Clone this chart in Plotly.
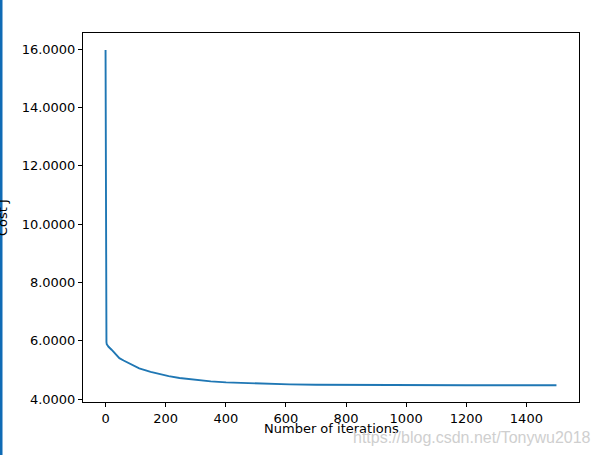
import plotly.graph_objects as go

# Data
iterations = [0, 1, 2, 3, 4, 6, 10, 20, 30, 46, 60, 80, 112, 150, 179, 210, 246,
              280, 312, 350, 401, 450, 500, 550, 612, 700, 800, 900, 1000, 1200, 1500]
cost = [15.97, 7.6, 6.25, 5.95, 5.88, 5.84, 5.79, 5.69, 5.59, 5.40, 5.32, 5.21,
        5.05, 4.93, 4.85, 4.785, 4.72, 4.68, 4.64, 4.605, 4.57, 4.548, 4.53, 4.515,
        4.50, 4.49, 4.482, 4.477, 4.474, 4.472, 4.47]

x_ticks = [0, 200, 400, 600, 800, 1000, 1200, 1400]
y_ticks = [4, 6, 8, 10, 12, 14, 16]

W, H = 602, 455
L, R, T, B = 83, 23, 33, 53
pw = W - L - R
ph = H - T - B

fig = go.Figure()
fig.add_trace(go.Scatter(x=iterations, y=cost, mode="lines",
                         line=dict(color="#1f77b4", width=1.9), showlegend=False))

axis_common = dict(showgrid=False, zeroline=False, showline=True, linecolor="black",
                   linewidth=1, mirror=True, ticks="outside", ticklen=4, tickwidth=1,
                   tickcolor="black", automargin=False,
                   tickfont=dict(family="DejaVu Sans", size=13, color="black"))

fig.update_layout(
    width=W, height=H,
    margin=dict(l=L, r=R, t=T, b=B, autoexpand=False),
    paper_bgcolor="white", plot_bgcolor="white",
    xaxis=dict(range=[-75, 1575], tickvals=x_ticks, **axis_common),
    yaxis=dict(range=[3.897, 16.55], tickvals=y_ticks, tickformat=".4f", **axis_common),
    font=dict(family="DejaVu Sans", size=13, color="black"),
)

# x axis title
fig.add_annotation(text="Number of iterations", xref="paper", yref="paper",
                   x=(331 - L) / pw, y=-(428 - (H - B)) / ph, xanchor="center", yanchor="middle",
                   showarrow=False, font=dict(family="DejaVu Sans", size=13, color="black"))
# y axis title (cut off at the left edge in the reference)
fig.add_annotation(text="Cost J", xref="paper", yref="paper",
                   x=(3 - L) / pw, y=(H - B - 218) / ph, xanchor="center", yanchor="middle",
                   textangle=-90, showarrow=False,
                   font=dict(family="DejaVu Sans", size=13, color="black"))
# watermark
fig.add_annotation(text="https://blog.csdn.net/Tonywu2018", xref="paper", yref="paper",
                   x=(593 - L) / pw, y=-(437 - (H - B)) / ph, xanchor="right", yanchor="middle",
                   showarrow=False, font=dict(family="Liberation Sans", size=16, color="#cfcfcf"))
# blue strip at the left edge of the screenshot
fig.add_shape(type="rect", xref="paper", yref="paper",
              x0=(0 - L) / pw, x1=(2.5 - L) / pw, y0=-B / ph, y1=(H - B) / ph,
              fillcolor="#0f6bb5", line=dict(width=0), layer="above")

fig.write_html("out.html", config={"displayModeBar": False},
               post_script="document.body.style.margin='0';document.body.style.overflow='hidden';")
